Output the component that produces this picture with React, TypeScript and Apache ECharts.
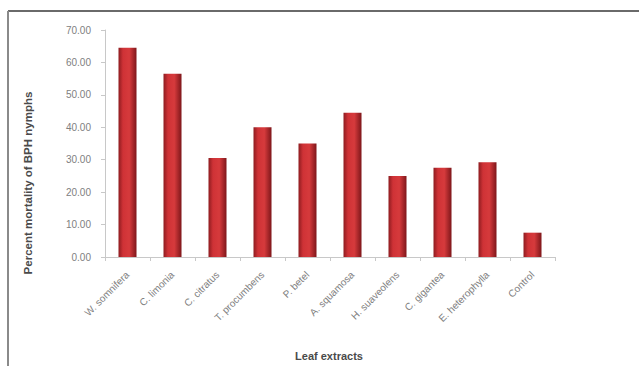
import React, { useEffect, useRef } from "react";
import * as echarts from "echarts";

const categories = [
  "W. somnifera",
  "C. limonia",
  "C. citratus",
  "T. procumbens",
  "P. betel",
  "A. squamosa",
  "H. suaveolens",
  "C. gigantea",
  "E. heterophylla",
  "Control",
];
const mortality = [64.5, 56.5, 30.5, 40.0, 35.0, 44.5, 25.0, 27.5, 29.2, 7.5];
const yTicks = { min: 0, max: 70, interval: 10 };

export default function App() {
  const ref = useRef<HTMLDivElement>(null);
  useEffect(() => {
    if (!ref.current) return;
    const chart = echarts.init(ref.current, null, { renderer: "svg" });
    chart.setOption({
      animation: false,
      backgroundColor: "#ffffff",
      grid: { left: 105, top: 30, right: 84, bottom: 109 },
      xAxis: {
        type: "category",
        data: categories,
        axisLine: { lineStyle: { color: "#c8c8c8" } },
        axisTick: { show: true, length: 4, lineStyle: { color: "#c8c8c8" } },
        axisLabel: {
          rotate: 45,
          interval: 0,
          fontSize: 10,
          color: "#808080",
          fontFamily: "Liberation Sans",
          margin: 16,
        },
      },
      yAxis: {
        type: "value",
        min: yTicks.min,
        max: yTicks.max,
        interval: yTicks.interval,
        axisLine: { show: true, lineStyle: { color: "#c8c8c8" } },
        axisTick: { show: true, length: 4, lineStyle: { color: "#c8c8c8" } },
        splitLine: { show: false },
        axisLabel: {
          formatter: (v: number) => v.toFixed(2),
          fontSize: 10,
          color: "#808080",
          fontFamily: "Liberation Sans",
          margin: 14,
        },
      },
      series: [
        {
          type: "bar",
          data: mortality,
          barWidth: 18,
          itemStyle: {
            color: new echarts.graphic.LinearGradient(0, 0, 1, 0, [
              { offset: 0, color: "#8e1c20" },
              { offset: 0.25, color: "#cf3236" },
              { offset: 0.6, color: "#d63a3c" },
              { offset: 1, color: "#7e161a" },
            ]),
          },
        },
      ],
      graphic: [
        {
          type: "line",
          shape: { x1: 8, y1: 11, x2: 639, y2: 11 },
          style: { stroke: "#6a6a6a", lineWidth: 2 },
        },
        {
          type: "line",
          shape: { x1: 8, y1: 11, x2: 8, y2: 366 },
          style: { stroke: "#8a8a8a", lineWidth: 2 },
        },
        {
          type: "text",
          x: 28,
          y: 183,
          rotation: Math.PI / 2,
          style: {
            text: "Percent mortality of BPH nymphs",
            fontSize: 11.5,
            fontWeight: "bold",
            fill: "#4a4a4a",
            fontFamily: "Liberation Sans",
            align: "center",
            verticalAlign: "middle",
          },
        },
        {
          type: "text",
          x: 329,
          y: 356,
          style: {
            text: "Leaf extracts",
            fontSize: 11,
            fontWeight: "bold",
            fill: "#4a4a4a",
            fontFamily: "Liberation Sans",
            align: "center",
            verticalAlign: "middle",
          },
        },
      ],
    });
    return () => chart.dispose();
  }, []);
  return <div ref={ref} style={{ width: 639, height: 366, position: "absolute", left: 0, top: 0 }} />;
}
